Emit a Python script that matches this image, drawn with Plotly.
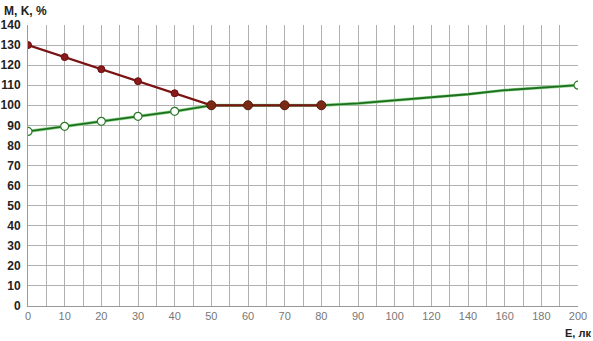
import plotly.graph_objects as go

# Category labels of the x axis (lux), equally spaced on the chart
x_labels = [0, 10, 20, 30, 40, 50, 60, 70, 80, 90, 100, 120, 140, 160, 180, 200]

# Red series (M)
red_x = [0, 10, 20, 30, 40, 50, 60, 70, 80]
red_y = [130, 124, 118, 112, 106, 100, 100, 100, 100]

# Green series (K)
green_x = [0, 10, 20, 30, 40, 50, 60, 70, 80, 90, 100, 120, 140, 160, 180, 200]
green_y = [87, 89.5, 92, 94.5, 97, 100, 100, 100, 100, 101, 102.5, 103.8, 105.5, 107.5, 108.8, 110]
green_marker_x = [0, 10, 20, 30, 40, 200]

y_ticks = list(range(0, 141, 10))

pos = {v: i for i, v in enumerate(x_labels)}
gpos = [pos[v] for v in green_x]
gmap = dict(zip(green_x, green_y))

fig = go.Figure()
# green line (with light edge)
fig.add_trace(go.Scatter(x=gpos, y=green_y, mode="lines",
                         line=dict(color="#8fd88f", width=3.2), hoverinfo="skip"))
fig.add_trace(go.Scatter(x=gpos, y=green_y, mode="lines",
                         line=dict(color="#1f6e1f", width=1.8)))
fig.add_trace(go.Scatter(x=[pos[v] for v in green_marker_x],
                         y=[gmap[v] for v in green_marker_x], mode="markers",
                         marker=dict(symbol="circle", size=8, color="white",
                                     line=dict(color="#2a7a2a", width=1.2))))
# red line
fig.add_trace(go.Scatter(x=[pos[v] for v in red_x], y=red_y, mode="lines",
                         line=dict(color="#7a1414", width=2.2)))
small = [v for v in red_x if v < 50]
big = [v for v in red_x if v >= 50]
rmap = dict(zip(red_x, red_y))
fig.add_trace(go.Scatter(x=[pos[v] for v in small], y=[rmap[v] for v in small],
                         mode="markers",
                         marker=dict(size=7, color="#8b1a1a", line=dict(color="#6a0f0f", width=1))))
fig.add_trace(go.Scatter(x=[pos[v] for v in big], y=[rmap[v] for v in big],
                         mode="markers",
                         marker=dict(size=9, color="#7a2a14", line=dict(color="#5a1a0a", width=1))))

grid = "#b0b0b0"
fig.update_layout(
    width=593, height=341,
    margin=dict(l=28, r=15, t=25, b=35, autoexpand=False),
    paper_bgcolor="white", plot_bgcolor="white",
    showlegend=False,
    font=dict(family="Arial, Liberation Sans, sans-serif"),
    xaxis=dict(range=[0, len(x_labels) - 1], automargin=False,
               tickmode="array", tickvals=list(range(len(x_labels))),
               ticktext=[str(v) for v in x_labels],
               showgrid=True, gridcolor=grid, gridwidth=1,
               minor=dict(tickmode="array",
                          tickvals=[i + 0.5 for i in range(len(x_labels) - 1)],
                          showgrid=True, gridcolor=grid, gridwidth=1),
               showline=True, linecolor="#999999", linewidth=1,
               ticks="", zeroline=False,
               tickfont=dict(size=11, color="#777777")),
    yaxis=dict(range=[0, 140], tickmode="array", tickvals=y_ticks, automargin=False,
               showgrid=True, gridcolor=grid, gridwidth=1,
               showline=True, linecolor="#999999", linewidth=1,
               ticks="", zeroline=False,
               tickfont=dict(family="Liberation Sans", size=12, color="#222222", weight="bold"),
               ticklabelstandoff=4),
    annotations=[
        dict(text="<b>M, K, %</b>", xref="paper", yref="paper", x=-26/550, y=1.0,
             yshift=23, xanchor="left", yanchor="top", showarrow=False,
             font=dict(size=12, color="#222222")),
        dict(text="<b>E, лк</b>", xref="paper", yref="paper", x=1.0, y=0,
             xshift=15, yshift=-35, xanchor="right", yanchor="bottom", showarrow=False,
             font=dict(size=11, color="#222222")),
    ],
)

fig.write_html("out.html", config={"displayModeBar": False},
               post_script="document.body.style.margin='0';document.body.style.padding='0';")
